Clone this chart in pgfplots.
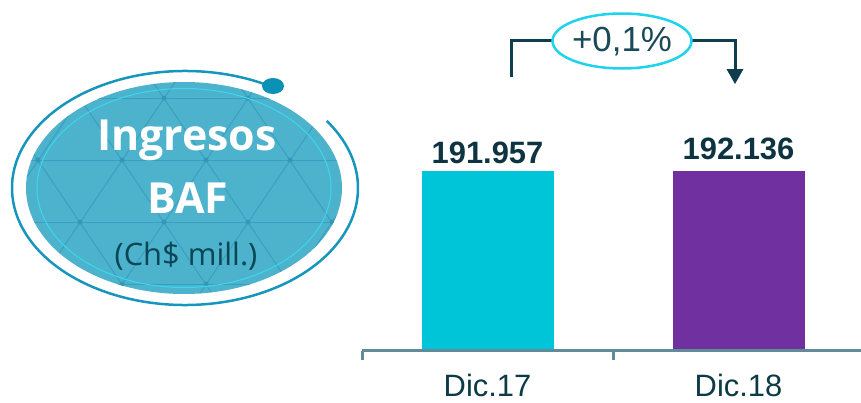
\documentclass[border=0pt]{standalone}
\usepackage{pgfplots}
\pgfplotsset{compat=1.18}
\usepackage{fontspec}
\setmainfont{Liberation Sans}
\newfontfamily\osans{Open Sans}
\definecolor{barcyan}{RGB}{0,197,216}
\definecolor{barpurple}{RGB}{112,48,160}
\definecolor{axiscol}{RGB}{95,140,150}
\definecolor{labcol}{RGB}{12,58,70}
\definecolor{valcol}{RGB}{13,52,64}
\definecolor{brcol}{RGB}{14,62,78}
\definecolor{pctcol}{RGB}{26,74,88}
\definecolor{pctring}{RGB}{30,212,236}
\definecolor{elfill}{RGB}{77,178,204}
\definecolor{elline}{RGB}{50,152,186}
\definecolor{ringcol}{RGB}{22,150,189}
\definecolor{dotcol}{RGB}{10,145,181}
\definecolor{innercol}{RGB}{60,216,240}
\definecolor{subcol}{RGB}{10,70,85}
\begin{document}
\begin{tikzpicture}
\path[use as bounding box] (0,0) rectangle (861bp,-403bp);
\begin{scope}[x=1bp,y=-1bp]
% left decoration
\fill[elfill] (184,188) ellipse [x radius=158bp, y radius=106bp];
\begin{scope}
\clip (184,188) ellipse [x radius=158bp, y radius=106bp];
\foreach \m in {-4,...,6} {
  \draw[elline, line width=1bp, opacity=0.7] ({122+84*\m-68},60) -- ({122+84*\m+108},320);
  \draw[elline, line width=1bp, opacity=0.7] ({122+84*\m+68},60) -- ({122+84*\m-108},320);
}
\foreach \yy in {36,98,160,222,284} {
  \draw[elline, line width=1bp, opacity=0.7] (0,\yy) -- (360,\yy);
}
\foreach \j in {-2,...,2} {
  \foreach \m in {-2,...,4} {
    \fill[elline] ({122+84*\m+42*\j},{160+62*\j}) circle[radius=2.5bp];
  }
}
\end{scope}
\draw[innercol, line width=1bp] (184,188) ellipse [x radius=147bp, y radius=99.5bp];
\draw[ringcol, line width=2.5bp] ([shift={(60:173bp and 117bp)}]185,188) arc[start angle=60, end angle=395, x radius=173bp, y radius=117bp];
\fill[dotcol] (273,86) ellipse [x radius=11bp, y radius=8bp];
\node[anchor=base, inner sep=0, text=white, font=\osans\bfseries\fontsize{43}{43}\selectfont] at (187,150) {Ingresos};
\node[anchor=base, inner sep=0, text=white, font=\osans\bfseries\fontsize{43}{43}\selectfont] at (188,213) {BAF};
\node[anchor=base, inner sep=0, text=subcol, font=\osans\fontsize{31}{31}\selectfont] at (186,265) {(Ch\$ mill.)};
% bracket
\draw[brcol, line width=3bp] (511,77) -- (511,40) -- (553,40);
\draw[brcol, line width=3bp] (691,40) -- (735,40) -- (735,70);
\fill[brcol] (726.5,69) -- (743.5,69) -- (735,84) -- cycle;
\draw[pctring, line width=2.5bp, fill=white] (622,41) ellipse [x radius=69.5bp, y radius=27.5bp];
\node[anchor=base, inner sep=0, text=pctcol, font=\fontsize{35}{35}\selectfont] at (622,51.5) {+0,1\%};
\end{scope}
% chart
\begin{axis}[
  at={(362bp,-350.7bp)}, anchor=south west,
  width=499bp, height=350.7bp, scale only axis,
  xmin=-0.5, xmax=1.488, ymin=0, ymax=374000,
  axis x line*=bottom, axis y line=none,
  axis line style={draw=axiscol, line width=3bp, -},
  axis on top=true,
  xtick={0,1}, xticklabels={Dic.17,Dic.18},
  major tick length=0pt,
  minor xtick={-0.5,0.5}, minor tick length=9bp, xtick align=outside,
  minor tick style={draw=axiscol, line width=3bp},
  ytick=\empty,
  xticklabel style={font=\fontsize{31}{31}\selectfont, text=labcol, anchor=base, yshift=-46bp, inner sep=0pt},
  clip=false,
  ybar, bar width=132bp,
  point meta=explicit symbolic,
  nodes near coords,
  every node near coord/.append style={font=\bfseries\fontsize{31}{31}\selectfont, text=valcol, anchor=base, inner sep=0pt},
]
\addplot[fill=barcyan, draw=none, bar shift=0pt, every node near coord/.append style={yshift=7bp}] coordinates {(0,191957) [191.957]};
\addplot[fill=barpurple, draw=none, bar shift=0pt, every node near coord/.append style={yshift=11bp}] coordinates {(1,192136) [192.136]};
\end{axis}
\end{tikzpicture}
\end{document}
